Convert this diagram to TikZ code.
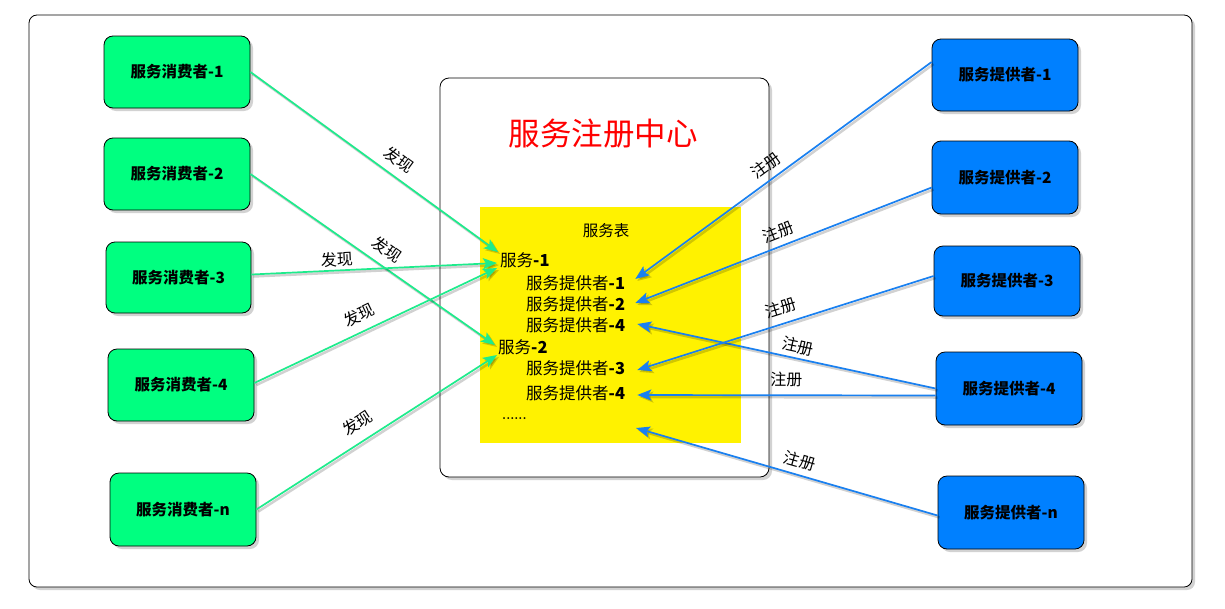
\documentclass[tikz,border=0pt]{standalone}
\usepackage{fontspec}
\newfontfamily\cjk{Noto Sans CJK SC}
\usetikzlibrary{shadows,arrows.meta}
\definecolor{cgreen}{RGB}{0,255,128}
\definecolor{cblue}{RGB}{0,128,255}
\definecolor{lgreen}{RGB}{30,235,140}
\definecolor{lblue}{RGB}{25,128,240}
\begin{document}
\begin{tikzpicture}[x=1pt,y=-1pt,font=\cjk,
  shad/.style={drop shadow={shadow xshift=3pt,shadow yshift=-3pt,opacity=0.35}},
  box/.style={draw=black,line width=0.8pt,rounded corners=9pt,minimum width=146pt,minimum height=72pt,shad,
    font=\cjk\bfseries\fontsize{15.5}{18}\selectfont},
  cbox/.style={box,fill=cgreen},
  pbox/.style={box,fill=cblue},
  item/.style={anchor=west,inner sep=0pt,font=\cjk\fontsize{16.5}{20}\selectfont},
  lab/.style={font=\cjk\fontsize{16}{19}\selectfont,inner sep=2pt},
  lshadow/.style={preaction={draw=black,opacity=0.18,line width=2.5pt,transform canvas={xshift=2pt,yshift=-2pt}}},
  garrow/.style={draw=lgreen,line width=1.7pt,-{Stealth[length=14pt,width=11pt,inset=3pt]},lshadow},
  barrow/.style={draw=lblue,line width=1.7pt,{Stealth[length=14pt,width=11pt,inset=3pt]}-,lshadow},
]
\useasboundingbox (0,0) rectangle (1225,608);
\fill[white] (0,0) rectangle (1225,608);
% outer frame
\draw[line width=0.8pt,rounded corners=8pt,fill=white,shad] (29,15) rectangle (1192,587);
% registry
\node[draw=black,line width=0.8pt,rounded corners=9pt,fill=white,shad,minimum width=329pt,minimum height=399pt] (reg) at (604.5,277.5) {};
\node[text=red,font=\cjk\fontsize{31.5}{36}\selectfont] (title) at (603,134) {服务注册中心};
\node[fill=yellow,minimum width=261pt,minimum height=236pt,inner sep=0pt] (tbl) at (610.5,325) {};
\node[font=\cjk\fontsize{15.5}{18}\selectfont] (tname) at (606,231) {服务表};
\node[item] (s1) at (500,260) {服务\textbf{-1}};
\node[item] (e1) at (526,283) {服务提供者\textbf{-1}};
\node[item] (e2) at (526,304) {服务提供者\textbf{-2}};
\node[item] (e4a) at (526,325) {服务提供者\textbf{-4}};
\node[item] (s2) at (498,347) {服务\textbf{-2}};
\node[item] (e3) at (526,368) {服务提供者\textbf{-3}};
\node[item] (e4b) at (526,393) {服务提供者\textbf{-4}};
\node[item,font=\bfseries\fontsize{13}{16}\selectfont] (dots) at (502,419) {......};
\coordinate (endn) at (636,428);
% consumers
\node[cbox] (c1) at (177,72) {服务消费者-1};
\node[cbox] (c2) at (177,174) {服务消费者-2};
\node[cbox,minimum width=145pt,minimum height=71pt] (c3) at (178.5,277.5) {服务消费者-3};
\node[cbox] (c4) at (181,385) {服务消费者-4};
\node[cbox,minimum height=73pt] (cn) at (183,509.5) {服务消费者-n};
% providers
\node[pbox] (p1) at (1005,75) {服务提供者-1};
\node[pbox,minimum height=73pt] (p2) at (1005,177.5) {服务提供者-2};
\node[pbox,minimum height=70pt] (p3) at (1007,281) {服务提供者-3};
\node[pbox,minimum height=73pt] (p4) at (1009,388.5) {服务提供者-4};
\node[pbox,minimum height=73pt] (pn) at (1011,512.5) {服务提供者-n};
% discover arrows
\draw[garrow] (c1.east) -- node[lab,pos=0.56,above=6pt,sloped] {发现} ([shift={(-2pt,8pt)}]s1.west);
\draw[garrow] (c2.east) -- node[lab,pos=0.52,above=6pt,sloped] {发现} ([shift={(-3pt,2pt)}]s2.west);
\draw[garrow] ([yshift=3pt]c3.east) -- node[lab,pos=0.35,above=1pt,sloped] {发现} ([shift={(-3pt,-3pt)}]s1.west);
\draw[garrow] ([yshift=2pt]c4.east) -- node[lab,pos=0.46,above=6pt,sloped] {发现} ([shift={(-3pt,-8pt)}]s1.west);
\draw[garrow] (cn.east) -- node[lab,pos=0.46,above=8pt,sloped] {发现} ([shift={(-1pt,-8pt)}]s2.west);
% register arrows
\draw[barrow] ([shift={(10pt,4pt)}]e1.east) -- node[lab,pos=0.47,above=4pt,sloped] {注册} ([yshift=13pt]p1.west);
\draw[barrow] ([shift={(10pt,1pt)}]e2.east) -- node[lab,pos=0.5,above=4pt,sloped] {注册} ([yshift=-10pt]p2.west);
\draw[barrow] ([shift={(12pt,1pt)}]e4a.east) -- node[lab,pos=0.53,above=2pt,sloped] {注册} (p4.west);
\draw[barrow] ([shift={(12pt,-2pt)}]e3.east) -- node[lab,pos=0.5,above=6pt,sloped] {注册} ([yshift=5pt]p3.west);
\draw[barrow] ([shift={(12pt,-2pt)}]e4b.east) -- node[lab,pos=0.5,above=6pt,sloped] {注册} ([yshift=-7pt]p4.west);
\draw[barrow] (endn) -- node[lab,pos=0.53,above=4pt,sloped] {注册} ([yshift=-3pt]pn.west);
\end{tikzpicture}
\end{document}
